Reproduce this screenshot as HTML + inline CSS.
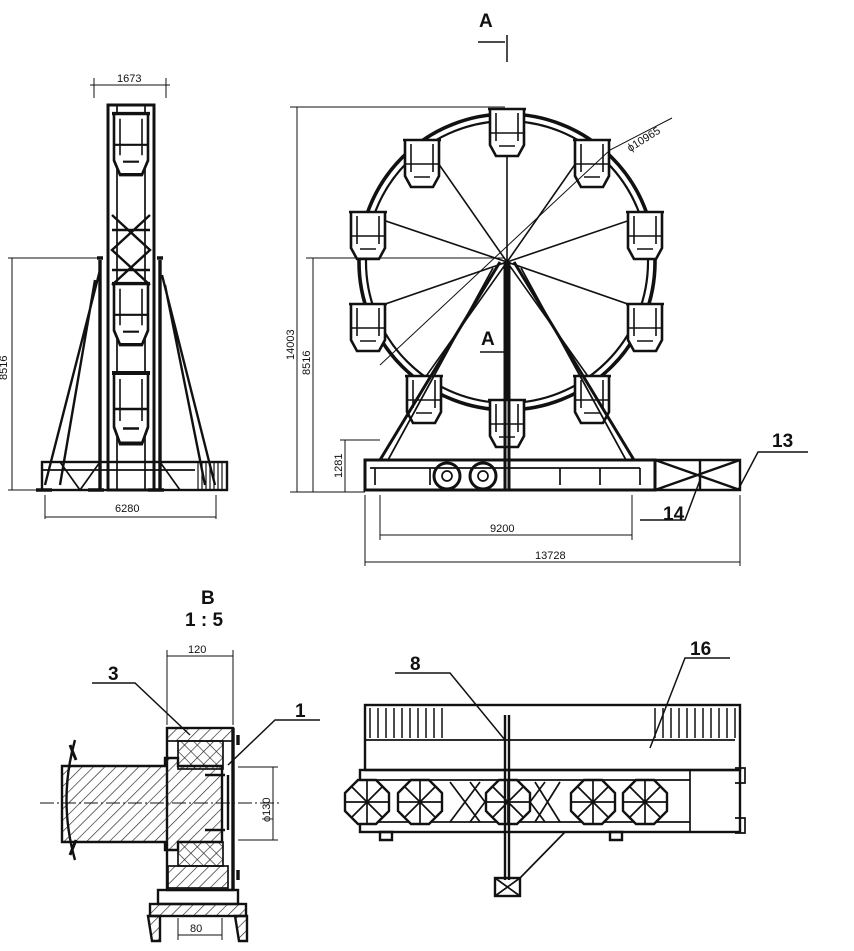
<!DOCTYPE html>
<html><head><meta charset="utf-8"><style>
html,body{margin:0;padding:0;background:#fff;}
svg{display:block;font-family:"Liberation Sans",sans-serif;}
</style></head><body>
<svg width="854" height="951" viewBox="0 0 854 951" xmlns="http://www.w3.org/2000/svg">
<defs>
<pattern id="h" width="8" height="8" patternUnits="userSpaceOnUse" patternTransform="rotate(45)"><line x1="0" y1="0" x2="0" y2="8" stroke="#222" stroke-width="1.3"/></pattern>
<pattern id="x" width="9" height="9" patternUnits="userSpaceOnUse" patternTransform="rotate(45)"><path d="M0 0V9M0 0H9" stroke="#222" stroke-width="1.3"/></pattern>
<g id="gon"><path d="M-19 -28h38M-17 -28v36l6 11h22l6-11v-36" fill="#fff" stroke="#111" stroke-width="2.6"/><path d="M-11 -24v28M11 -24v28M-17 -4h34M-8 9h16" stroke="#111" stroke-width="1.6" fill="none"/></g>
<g id="oct"><polygon points="-9,-22 9,-22 22,-9 22,9 9,22 -9,22 -22,9 -22,-9" fill="#fff" stroke="#111" stroke-width="2.4"/><path d="M-22 0H22M0 -22V22M-15 -15L15 15M15 -15L-15 15" stroke="#111" stroke-width="1.7"/></g>
</defs>
<g stroke="#111" fill="none" stroke-width="1.7">
<!-- LEFT SIDE VIEW -->
<rect x="108" y="105" width="46" height="385" stroke-width="3"/>
<line x1="117" y1="105" x2="117" y2="490"/><line x1="145" y1="105" x2="145" y2="490"/>
<use href="#gon" transform="translate(131,150) scale(1,1.3)"/>
<use href="#gon" transform="translate(131,320) scale(1,1.3)"/>
<use href="#gon" transform="translate(131,415) scale(1,1.5)"/>
<path d="M112 215L150 250L112 285M150 215L112 250L150 285M112 230H150M112 270H150" stroke-width="2.4"/>
<path d="M100 260V490M160 260V490M97 258h6M157 258h6" stroke-width="3.4"/>
<path d="M100 270L45 485M162 275L215 485M95 280L60 485M165 285L205 485" stroke-width="2.4"/>
<rect x="42" y="462" width="185" height="28" stroke-width="2.4"/>
<path d="M42 470H195M60 462L80 490L100 462M160 462L180 490" />
<path d="M198 462v28M202 462v28M206 462v28M210 462v28M214 462v28M218 462v28M222 462v28" stroke-width="1.2"/>
<path d="M36 490h16M88 490h16M148 490h16" stroke-width="3.4"/>
<!-- left dims -->
<path d="M90 85H170M94 78v20M166 78v20" stroke-width="1"/>
<path d="M8 258H100M8 490H45M12 258V490" stroke-width="1"/>
<path d="M45 495v24M216 495v24M45 517H216" stroke-width="1"/>
<!-- WHEEL -->
<circle cx="507" cy="262" r="148" stroke-width="3.6"/>
<circle cx="507" cy="262" r="141" stroke-width="2.2"/>
<g stroke-width="1.6">
<path d="M507 262L507 114M507 262L422 140M507 262L592 140M507 262L368 215M507 262L645 215M507 262L368 310M507 262L645 310M507 262L422 382M507 262L592 382M507 262L507 410"/>
</g>
<use href="#gon" transform="translate(507,137)"/>
<use href="#gon" transform="translate(422,168)"/>
<use href="#gon" transform="translate(592,168)"/>
<use href="#gon" transform="translate(368,240)"/>
<use href="#gon" transform="translate(645,240)"/>
<use href="#gon" transform="translate(368,332)"/>
<use href="#gon" transform="translate(645,332)"/>
<use href="#gon" transform="translate(424,404)"/>
<use href="#gon" transform="translate(592,404)"/>
<use href="#gon" transform="translate(507,428)"/>
<path d="M500 262L380 460M514 262L634 460M505 262V490M509 262V490" stroke-width="3"/>
<path d="M493 268L388 460M521 268L626 460" stroke-width="1.8"/>
<!-- trailer -->
<rect x="365" y="460" width="290" height="30" stroke-width="3"/>
<path d="M655 460H740L740 490H655M655 460L740 490M655 490L740 460M700 460V490" stroke-width="2.4"/>
<path d="M370 468H640M375 468V485M430 468V485M505 468V485M560 468V485M600 468V485M640 468V485"/>
<circle cx="447" cy="476" r="13" stroke-width="3"/><circle cx="447" cy="476" r="5"/>
<circle cx="483" cy="476" r="13" stroke-width="3"/><circle cx="483" cy="476" r="5"/>
<!-- wheel dims -->
<path d="M297 107V492M290 107H505M290 492H365" stroke-width="1"/>
<path d="M313 258V492M306 258H505" stroke-width="1"/>
<path d="M345 440V492M340 440H380" stroke-width="1"/>
<path d="M380 495V540M632 495V540M380 535H632" stroke-width="1"/>
<path d="M365 495V566M740 495V566M365 562H740" stroke-width="1"/>
<path d="M380 365L610 150L672 118" stroke-width="1"/>
<path d="M738 490L758 452H808" stroke-width="1.5"/>
<path d="M700 480L685 520H640" stroke-width="1.5"/>
<path d="M507 35V62M478 42H505" stroke-width="1.5"/>
<path d="M505 330V358M480 352H505" stroke-width="1.5"/>
<!-- DETAIL B -->
<rect x="167" y="728" width="66" height="162" stroke-width="2.4"/>
<rect x="167" y="728" width="66" height="13" fill="url(#h)"/>
<rect x="178" y="741" width="45" height="28" fill="url(#x)"/>
<rect x="178" y="842" width="45" height="24" fill="url(#x)"/>
<rect x="168" y="866" width="60" height="22" fill="url(#h)"/>
<path d="M62 766H165V758H178V766H222V842H178V850H165V842H62Z" fill="url(#h)" stroke-width="2.4"/>
<path d="M75 740Q58 800 75 860" stroke-width="2.4"/>
<path d="M70 745l6 15M70 855l6 -15" stroke-width="3"/>
<path d="M40 803H280" stroke-width="1" stroke-dasharray="14 3 2 3"/>
<path d="M233 728V890M238 735v10M238 870v10" stroke-width="3.4"/>
<path d="M205 775h20M205 830h20M228 775v55" stroke-width="2.4"/>
<rect x="158" y="890" width="80" height="14" stroke-width="2.4"/>
<rect x="150" y="904" width="96" height="12" fill="url(#h)" stroke-width="2.4"/>
<path d="M148 916h12v25h-8zM235 916h12v25h-8z" fill="url(#h)" stroke-width="2.4"/>
<path d="M167 725V650M233 725V650M167 656H233" stroke-width="1"/>
<path d="M178 918V940M222 918V940M178 935H222" stroke-width="1"/>
<path d="M238 767H278M238 840H278M273 767V840" stroke-width="1"/>
<path d="M92 683H135L190 735" stroke-width="1.5"/>
<path d="M320 720H275L228 765" stroke-width="1.5"/>
<!-- TOP VIEW -->
<rect x="365" y="705" width="375" height="65" stroke-width="2.4"/>
<path d="M365 740H735" stroke-width="1.7"/>
<path d="M370 708v30M378 708v30M386 708v30M394 708v30M402 708v30M410 708v30M418 708v30M426 708v30M434 708v30M442 708v30" stroke-width="1.5"/>
<path d="M655 708v30M663 708v30M671 708v30M679 708v30M687 708v30M695 708v30M703 708v30M711 708v30M719 708v30M727 708v30M735 708v30" stroke-width="1.5"/>
<rect x="360" y="770" width="380" height="62" stroke-width="2.4"/>
<path d="M370 780H690M370 822H690M690 770V832M735 768h10v15h-10M735 818h10v15h-10" stroke-width="1.7"/>
<path d="M450 782L480 822M450 822L480 782M470 782L500 822M470 822L500 782M515 782L545 822M515 822L545 782M535 782L560 822M535 822L560 782" stroke-width="1.7"/>
<use href="#oct" transform="translate(367,802)"/>
<use href="#oct" transform="translate(420,802)"/>
<use href="#oct" transform="translate(508,802)"/>
<use href="#oct" transform="translate(593,802)"/>
<use href="#oct" transform="translate(645,802)"/>
<path d="M505 715V880M509 715V880" stroke-width="2.4"/>
<rect x="495" y="878" width="25" height="18" stroke-width="2.4"/>
<path d="M495 896L520 878M495 878L520 896M520 878L565 832"/>
<path d="M380 832h12v8h-12zM610 832h12v8h-12z" stroke-width="2.4"/>
<path d="M395 673H450L505 740" stroke-width="1.5"/>
<path d="M730 658H685L650 748" stroke-width="1.5"/>
</g>
<g fill="#111" font-size="11">
<text x="117" y="82">1673</text>
<text x="7" y="380" transform="rotate(-90 7 380)">8516</text>
<text x="115" y="512">6280</text>
<text x="294" y="360" transform="rotate(-90 294 360)">14003</text>
<text x="310" y="375" transform="rotate(-90 310 375)">8516</text>
<text x="342" y="478" transform="rotate(-90 342 478)">1281</text>
<text x="490" y="532">9200</text>
<text x="535" y="559">13728</text>
<text x="630" y="152" transform="rotate(-32 630 152)">ϕ10965</text>
<text x="188" y="653">120</text>
<text x="190" y="932">80</text>
<text x="270" y="822" transform="rotate(-90 270 822)">ϕ130</text>
</g>
<g fill="#111" font-weight="bold" font-size="19">
<text x="479" y="27">A</text>
<text x="481" y="345">A</text>
<text x="772" y="447">13</text>
<text x="663" y="520">14</text>
<text x="201" y="604">B</text>
<text x="185" y="626">1 : 5</text>
<text x="108" y="680">3</text>
<text x="295" y="717">1</text>
<text x="410" y="670">8</text>
<text x="690" y="655">16</text>
</g>
</svg>
</body></html>
